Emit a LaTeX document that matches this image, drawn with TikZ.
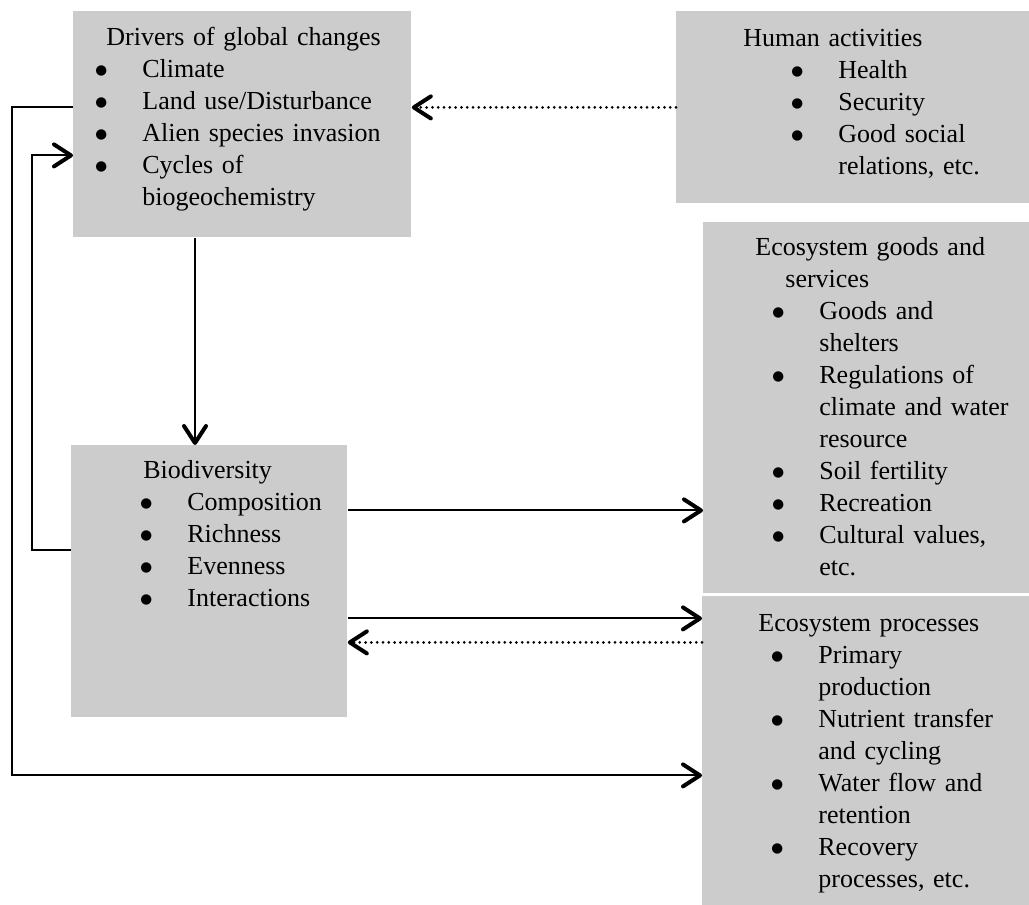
\documentclass[tikz,border=0pt]{standalone}
\usepackage{fontspec}
\setmainfont{Liberation Serif}
\newfontfamily\dotfont{DejaVu Sans}
\usetikzlibrary{arrows.meta}
\definecolor{boxgray}{RGB}{204,204,204}
\newcommand{\bul}{\makebox[23.5pt][l]{\raisebox{1.1pt}{\fontsize{6.8}{6}\dotfont ●}}}

\begin{document}
\begin{tikzpicture}[x=0.5pt,y=-0.5pt,
    box/.style={rectangle,fill=boxgray,inner sep=0pt,anchor=north west},
    boxtext/.style={inner sep=0pt,anchor=base west,align=left,
      font=\fontsize{13}{16}\selectfont},
    arr/.style={line width=1pt,
      -{Straight Barb[length=8.5pt,width=11pt,line width=2pt,round]}},
    dotarr/.style={arr,line width=1.5pt,line cap=round,dash pattern=on 0pt off 2.9pt}]
  \useasboundingbox (0,0) rectangle (1029,905);

  % Grey boxes
  \node[box,minimum width=169pt,minimum height=113pt]   (drivers) at (73,11)   {};
  \node[box,minimum width=176.5pt,minimum height=96pt]  (human)   at (676,11)  {};
  \node[box,minimum width=163pt,minimum height=185.5pt] (goods)   at (703,222) {};
  \node[box,minimum width=138pt,minimum height=136pt]   (bio)     at (71,445)  {};
  \node[box,minimum width=163.5pt,minimum height=154.5pt] (proc)  at (702,596) {};

  % Texts of the boxes
  \node[boxtext,text width=169pt] (driverstext) at ([yshift=-17pt]drivers.north west) {%
    \hspace*{16.5pt}Drivers of global changes\\
    \hspace*{11pt}\bul Climate\\
    \hspace*{11pt}\bul Land use/Disturbance\\
    \hspace*{11pt}\bul Alien species invasion\\
    \hspace*{11pt}\bul Cycles of\\
    \hspace*{34.5pt}biogeochemistry};
  \node[boxtext,text width=176.5pt] (humantext) at ([yshift=-17.5pt]human.north west) {%
    \hspace*{33.5pt}Human activities\\
    \hspace*{57.5pt}\bul Health\\
    \hspace*{57.5pt}\bul Security\\
    \hspace*{57.5pt}\bul Good social\\
    \hspace*{81pt}relations, etc.};
  \node[boxtext,text width=163pt] (goodstext) at ([yshift=-16.5pt]goods.north west) {%
    \hspace*{26pt}Ecosystem goods and\\
    \hspace*{41pt}services\\
    \hspace*{34.5pt}\bul Goods and\\
    \hspace*{58pt}shelters\\
    \hspace*{34.5pt}\bul Regulations of\\
    \hspace*{58pt}climate and water\\
    \hspace*{58pt}resource\\
    \hspace*{34.5pt}\bul Soil fertility\\
    \hspace*{34.5pt}\bul Recreation\\
    \hspace*{34.5pt}\bul Cultural values,\\
    \hspace*{58pt}etc.};
  \node[boxtext,text width=138pt] (biotext) at ([yshift=-16.5pt]bio.north west) {%
    \hspace*{36pt}Biodiversity\\
    \hspace*{34.5pt}\bul Composition\\
    \hspace*{34.5pt}\bul Richness\\
    \hspace*{34.5pt}\bul Evenness\\
    \hspace*{34.5pt}\bul Interactions};
  \node[boxtext,text width=163.5pt] (proctext) at ([yshift=-17.5pt]proc.north west) {%
    \hspace*{28pt}Ecosystem processes\\
    \hspace*{34.5pt}\bul Primary\\
    \hspace*{58pt}production\\
    \hspace*{34.5pt}\bul Nutrient transfer\\
    \hspace*{58pt}and cycling\\
    \hspace*{34.5pt}\bul Water flow and\\
    \hspace*{58pt}retention\\
    \hspace*{34.5pt}\bul Recovery\\
    \hspace*{58pt}processes, etc.};

  % Arrows
  \draw[dotarr] (human.west) -- (human.west -| drivers.east);
  \draw[arr] ([xshift=61pt]drivers.south west) -- ([xshift=61pt]drivers.south west |- bio.north);
  \draw[arr] ([yshift=8.5pt]drivers.west) -- ++(-61,0) |- ([yshift=-12.25pt]proc.west);
  \draw[arr] ([yshift=15.5pt]bio.west) -- ++(-39,0) |- ([yshift=-15.5pt]drivers.west);
  \draw[arr] ([yshift=35.5pt]bio.east) -- ([yshift=35.5pt]bio.east -| goods.west);
  \draw[arr] ([yshift=-18.5pt]bio.east) -- ([yshift=-18.5pt]bio.east -| proc.west);
  \draw[dotarr] ([yshift=-30.5pt]bio.east -| proc.west) -- ([yshift=-30.5pt]bio.east);
\end{tikzpicture}
\end{document}
